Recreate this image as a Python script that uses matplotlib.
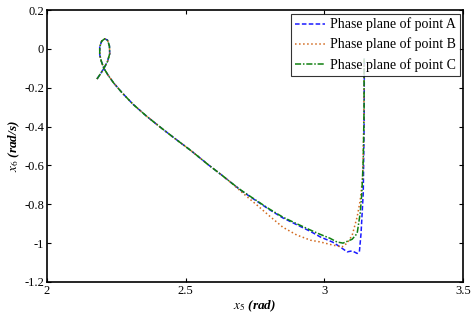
import matplotlib
matplotlib.use("Agg")
import matplotlib.pyplot as plt
import numpy as np

plt.rcParams['font.family'] = ['Liberation Serif', 'DejaVu Serif']
plt.rcParams['mathtext.fontset'] = 'stix'

# shared start of all three trajectories (loop + long descent)
common_x = [2.180, 2.192, 2.205, 2.218, 2.226, 2.225, 2.218, 2.208, 2.197, 2.190,
            2.190, 2.196, 2.205, 2.220, 2.240, 2.270, 2.310, 2.360, 2.410, 2.455,
            2.520, 2.580, 2.630, 2.665]
common_y = [-0.155, -0.130, -0.100, -0.065, -0.025, 0.015, 0.045, 0.052, 0.040, 0.010,
            -0.030, -0.065, -0.100, -0.135, -0.175, -0.225, -0.285, -0.348, -0.405, -0.455,
            -0.525, -0.595, -0.650, -0.690]

# point A
a_x = [2.70, 2.75, 2.80, 2.85, 2.90, 2.95, 2.985, 3.03, 3.057, 3.082, 3.10, 3.118,
       3.126, 3.132, 3.140, 3.143, 3.144]
a_y = [-0.730, -0.778, -0.826, -0.870, -0.905, -0.940, -0.968, -0.995, -1.020, -1.045,
       -1.040, -1.053, -1.045, -0.950, -0.740, -0.400, -0.050]

# point B
b_x = [2.68, 2.72, 2.76, 2.80, 2.85, 2.90, 2.95, 2.985, 3.03, 3.063, 3.082, 3.10,
       3.118, 3.129, 3.138, 3.142, 3.143]
b_y = [-0.710, -0.760, -0.808, -0.858, -0.918, -0.958, -0.985, -0.994, -1.010, -1.020,
       -1.000, -0.960, -0.865, -0.780, -0.660, -0.400, -0.050]

# point C
c_x = [2.70, 2.75, 2.80, 2.85, 2.90, 2.95, 2.985, 3.02, 3.045, 3.067, 3.10, 3.118,
       3.129, 3.135, 3.140, 3.143, 3.143]
c_y = [-0.728, -0.776, -0.823, -0.866, -0.900, -0.933, -0.955, -0.975, -0.994, -1.000,
       -0.980, -0.950, -0.845, -0.740, -0.570, -0.300, -0.050]

fig = plt.figure(figsize=(4.75, 3.14), dpi=100)
ax = fig.add_axes([0.099, 0.102, 0.876, 0.866])

ax.plot(common_x + a_x, common_y + a_y, '--', color='#1a1aff', lw=1.1,
        dashes=(3, 1.5), label='Phase plane of point A')
ax.plot(common_x + b_x, common_y + b_y, ':', color='#d2691e', lw=1.1,
        label='Phase plane of point B')
ax.plot(common_x + c_x, common_y + c_y, '-.', color='#108010', lw=1.1,
        dashes=(4, 1.2, 1, 1.2), label='Phase plane of point C')

ax.set_xlim(2, 3.5)
ax.set_ylim(-1.2, 0.2)
ax.set_xticks([2, 2.5, 3, 3.5])
ax.set_xticklabels(['2', '2.5', '3', '3.5'])
ax.set_yticks([-1.2, -1, -0.8, -0.6, -0.4, -0.2, 0, 0.2])
ax.set_yticklabels(['-1.2', '-1', '-0.8', '-0.6', '-0.4', '-0.2', '0', '0.2'])
ax.tick_params(direction='in', top=True, right=True, length=3, width=0.8,
               labelsize=9, pad=2)
for s in ax.spines.values():
    s.set_linewidth(1.2)

ax.set_xlabel(r'$x_5$ (rad)', fontsize=9.5, fontstyle='italic', fontweight='bold',
              labelpad=1)
ax.set_ylabel(r'$x_6$ (rad/s)', fontsize=9.5, fontstyle='italic', fontweight='bold',
              labelpad=2)

leg = ax.legend(loc='upper right', fontsize=10, frameon=True, fancybox=False,
                borderaxespad=0.25, handlelength=2.2, handletextpad=0.3,
                borderpad=0.3, labelspacing=0.45)
leg.get_frame().set_edgecolor('black')
leg.get_frame().set_linewidth(0.8)

fig.savefig('out.png', dpi=100)
